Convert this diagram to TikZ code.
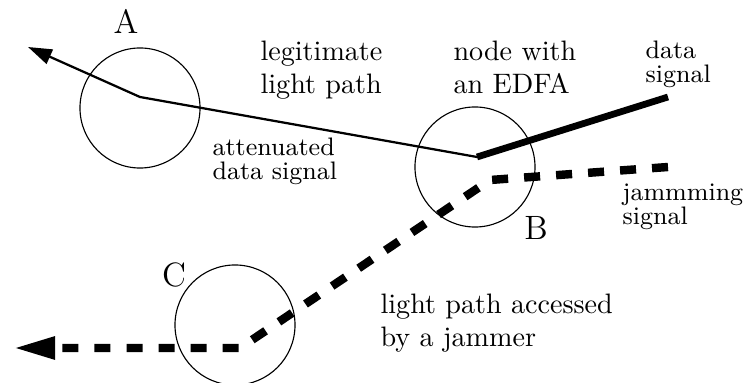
\documentclass[tikz,border=0pt]{standalone}
\usetikzlibrary{arrows.meta,positioning}

\begin{document}
\begin{tikzpicture}[x=0.0125cm,y=-0.0125cm,
  site/.style={circle,draw,thin,minimum size=1.5cm,inner sep=0pt},
  lbl/.style={inner sep=0pt,anchor=north west,align=left},
  small/.style={lbl,font=\fontsize{9}{8.5}\selectfont},
  jam/.style={line width=3pt,dash pattern=on 5.7pt off 5.7pt}]
\useasboundingbox (0,0) rectangle (746,383);
% the three nodes
\node[site] (siteA) at (140,108) {};
\node[site] (siteB) at (475,167) {};
\node[site] (siteC) at (235,325) {};
\node[anchor=base,inner sep=0pt,font=\large] (nameA) at (126,34) {A};
\node[anchor=base,inner sep=0pt,font=\large] (nameB) at (536,240) {B};
\node[anchor=base,inner sep=0pt,font=\large] (nameC) at (174,287) {C};
% texts
\node[lbl] (legit) at (260,40) {legitimate\\light path};
\node[lbl] (edfa) at (453,40) {node with\\an EDFA};
\node[small] (data) at (645,40) {data\\signal};
\node[small] (atten) at (212,137) {attenuated\\data signal};
\node[small] (jamsig) at (622,183) {jammming\\signal};
\node[lbl] (access) at (380,293) {light path accessed\\by a jammer};
% light paths
\coordinate (outA) at (28,47);
\coordinate (viaA) at (140,97);
\coordinate (viaB) at (477,157);
\coordinate (inData) at (668,97);
\coordinate (inJam) at (668,167);
\coordinate (jamB) at (490,180);
\coordinate (jamC) at (240,348);
\coordinate (outC) at (13,348);
\draw[line width=2.4pt] (viaB) -- (inData);
\draw[line width=0.8pt,-{Triangle[length=8.5pt,width=5.5pt]}]
  (viaB) -- (viaA) -- (outA);
\draw[jam,-{Triangle[length=15pt,width=7.5pt]}]
  (inJam) -- (jamB) -- (jamC) -- (outC);
\end{tikzpicture}
\end{document}
